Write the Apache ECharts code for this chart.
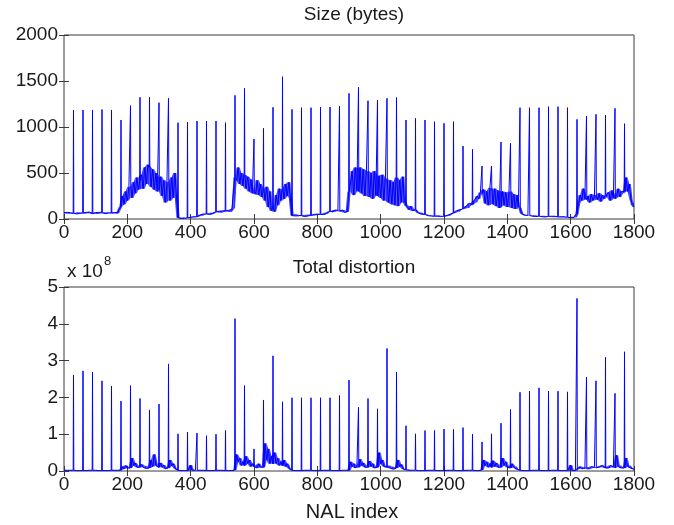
<!DOCTYPE html>
<html>
<head>
<meta charset="utf-8">
<script src="https://cdn.jsdelivr.net/npm/echarts@6/dist/echarts.min.js"></script>
<style>
html,body{margin:0;padding:0;background:#fff;}
#chart{width:674px;height:525px;}
</style>
</head>
<body>
<div id="chart"></div>
<script>
// NAL index step of the baseline arrays below
const sampleStep = 5;
const xTicks = [0, 200, 400, 600, 800, 1000, 1200, 1400, 1600, 1800];
const sizeTicks = [0, 500, 1000, 1500, 2000];
const distTicks = [0, 1, 2, 3, 4, 5];

// Single-NAL spikes (I-frames)
const spikeIdx = [30, 60, 90, 120, 150, 180, 210, 240, 270, 300, 330, 360, 390, 420, 450, 480, 510, 540,
  570, 600, 630, 660, 690, 720, 750, 780, 810, 840, 870, 900, 930, 960, 990, 1020, 1050, 1080, 1110,
  1140, 1170, 1200, 1230, 1260, 1290, 1320, 1350, 1380, 1410, 1440, 1470, 1500, 1530, 1560, 1590,
  1620, 1650, 1680, 1710, 1740, 1770];
const sizeSpikes = [1185, 1185, 1185, 1190, 1185, 1076, 1232, 1323, 1323, 1264, 1312, 1047, 1054, 1065,
  1065, 1065, 1047, 1344, 1420, 870, 986, 1214, 1547, 1192, 1210, 1210, 1217, 1217, 1228, 1366, 1431,
  1286, 1290, 1312, 1320, 1076, 1094, 1076, 1058, 1040, 1058, 793, 757, 576, 576, 837, 822, 1210, 1210,
  1210, 1221, 1221, 1210, 1083, 1120, 1138, 1130, 1203, 1036];
const distSpikes = [2.61, 2.72, 2.69, 2.45, 2.31, 1.90, 2.32, 1.97, 1.66, 1.82, 2.91, 1.01, 1.06, 1.03,
  0.96, 1.00, 1.10, 4.14, 2.32, 0.60, 1.93, 3.13, 1.88, 1.99, 1.99, 1.99, 1.99, 1.99, 2.05, 2.47, 1.73,
  1.97, 1.69, 3.33, 2.69, 1.23, 1.01, 1.10, 1.10, 1.14, 1.13, 1.18, 1.00, 0.79, 1.01, 1.30, 1.67, 2.14,
  2.17, 2.26, 2.17, 2.17, 2.15, 4.69, 2.55, 2.45, 3.09, 2.11, 3.24];

// Size (bytes) between spikes, every 5 NALs: one row per 30 NALs, final value at 1800
const sizeBase = [
  70, 60, 72, 58, 68, 56,
  62, 66, 55, 74, 60, 68,
  68, 58, 72, 62, 76, 64,
  58, 62, 70, 55, 72, 60,
  72, 66, 58, 74, 64, 70,
  65, 60, 72, 58, 68, 110,
  140, 250, 160, 300, 200, 350,
  330, 230, 400, 280, 450, 320,
  420, 480, 330, 560, 380, 590,
  560, 350, 540, 320, 500, 300,
  320, 460, 250, 420, 180, 380,
  400, 200, 450, 230, 500, 260,
  15, 10, 5, 15, 8, 12,
  12, 10, 20, 15, 25, 20,
  25, 30, 45, 35, 55, 50,
  55, 60, 50, 68, 58, 72,
  80, 72, 85, 68, 88, 76,
  90, 82, 95, 75, 100, 120,
  450, 420, 560, 380, 500, 360,
  480, 330, 460, 300, 430, 280,
  300, 270, 420, 260, 380, 240,
  320, 200, 350, 130, 300, 90,
  120, 80, 260, 150, 330, 200,
  320, 220, 380, 250, 400, 230,
  40, 30, 45, 28, 40, 35,
  35, 40, 28, 45, 32, 48,
  40, 36, 50, 40, 54, 45,
  50, 56, 48, 68, 60, 78,
  85, 90, 76, 98, 85, 94,
  90, 80, 98, 72, 90, 78,
  300, 300, 520, 260, 560, 310,
  300, 560, 280, 540, 250, 510,
  520, 240, 500, 220, 520, 260,
  250, 470, 230, 480, 200, 440,
  430, 180, 420, 160, 400, 150,
  450, 140, 420, 180, 460, 200,
  150, 130, 100, 140, 90, 110,
  100, 80, 62, 72, 52, 60,
  50, 45, 36, 40, 32, 35,
  30, 26, 34, 22, 30, 26,
  28, 30, 40, 35, 50, 60,
  65, 70, 90, 80, 100, 110,
  110, 115, 140, 120, 170, 150,
  160, 200, 180, 250, 220, 290,
  280, 320, 170, 300, 150, 340,
  330, 160, 330, 140, 310, 120,
  140, 300, 150, 290, 130, 280,
  300, 120, 270, 110, 260, 130,
  120, 60, 48, 42, 36, 40,
  38, 35, 30, 40, 26, 35,
  30, 32, 25, 34, 22, 30,
  28, 25, 30, 20, 30, 25,
  22, 20, 25, 16, 25, 20,
  18, 20, 15, 24, 15, 20,
  60, 170, 260, 200, 330, 220,
  210, 250, 180, 270, 200, 240,
  260, 210, 280, 190, 260, 220,
  250, 240, 290, 200, 310, 230,
  220, 260, 330, 240, 300, 280,
  300, 450, 300, 380, 220, 160,
  130
];

// Total distortion (x 1e8) between spikes, same sampling
const distBase = [
  0.02, 0.01, 0.02, 0.01, 0.02, 0.01,
  0.02, 0.02, 0.01, 0.02, 0.01, 0.02,
  0.01, 0.02, 0.01, 0.01, 0.02, 0.01,
  0.02, 0.01, 0.02, 0.01, 0.01, 0.02,
  0.01, 0.02, 0.01, 0.02, 0.01, 0.01,
  0.02, 0.01, 0.02, 0.01, 0.02, 0.01,
  0.03, 0.12, 0.06, 0.15, 0.08, 0.10,
  0.08, 0.35, 0.15, 0.22, 0.10, 0.14,
  0.10, 0.18, 0.10, 0.14, 0.07, 0.12,
  0.08, 0.30, 0.12, 0.45, 0.15, 0.20,
  0.10, 0.22, 0.10, 0.16, 0.06, 0.10,
  0.08, 0.30, 0.14, 0.20, 0.08, 0.05,
  0.02, 0.02, 0.01, 0.02, 0.01, 0.02,
  0.01, 0.02, 0.16, 0.02, 0.01, 0.02,
  0.02, 0.01, 0.02, 0.01, 0.02, 0.01,
  0.01, 0.02, 0.01, 0.02, 0.01, 0.02,
  0.02, 0.01, 0.02, 0.01, 0.02, 0.01,
  0.01, 0.02, 0.01, 0.02, 0.01, 0.02,
  0.03, 0.45, 0.25, 0.35, 0.15, 0.25,
  0.15, 0.40, 0.20, 0.30, 0.12, 0.20,
  0.12, 0.15, 0.08, 0.20, 0.10, 0.12,
  0.10, 0.75, 0.30, 0.60, 0.20, 0.40,
  0.20, 0.50, 0.20, 0.35, 0.15, 0.25,
  0.15, 0.30, 0.12, 0.20, 0.08, 0.05,
  0.02, 0.02, 0.01, 0.02, 0.01, 0.02,
  0.01, 0.01, 0.02, 0.01, 0.02, 0.01,
  0.02, 0.02, 0.01, 0.02, 0.01, 0.02,
  0.01, 0.01, 0.02, 0.01, 0.02, 0.01,
  0.02, 0.02, 0.01, 0.02, 0.01, 0.02,
  0.01, 0.01, 0.02, 0.01, 0.02, 0.01,
  0.02, 0.25, 0.12, 0.20, 0.08, 0.15,
  0.10, 0.32, 0.15, 0.22, 0.10, 0.14,
  0.10, 0.27, 0.12, 0.20, 0.08, 0.12,
  0.10, 0.50, 0.20, 0.30, 0.12, 0.15,
  0.10, 0.15, 0.08, 0.12, 0.05, 0.10,
  0.08, 0.30, 0.12, 0.18, 0.06, 0.05,
  0.03, 0.04, 0.02, 0.03, 0.02, 0.02,
  0.02, 0.02, 0.01, 0.02, 0.01, 0.02,
  0.01, 0.01, 0.02, 0.01, 0.02, 0.01,
  0.02, 0.02, 0.01, 0.02, 0.01, 0.02,
  0.01, 0.01, 0.02, 0.01, 0.02, 0.01,
  0.02, 0.02, 0.01, 0.02, 0.01, 0.02,
  0.01, 0.01, 0.02, 0.01, 0.02, 0.01,
  0.02, 0.02, 0.01, 0.02, 0.01, 0.02,
  0.03, 0.30, 0.15, 0.25, 0.10, 0.20,
  0.10, 0.28, 0.12, 0.22, 0.10, 0.15,
  0.10, 0.35, 0.15, 0.25, 0.10, 0.12,
  0.08, 0.20, 0.10, 0.12, 0.05, 0.04,
  0.02, 0.02, 0.01, 0.02, 0.01, 0.02,
  0.01, 0.01, 0.02, 0.01, 0.02, 0.01,
  0.02, 0.02, 0.01, 0.02, 0.01, 0.02,
  0.01, 0.01, 0.02, 0.01, 0.02, 0.01,
  0.02, 0.02, 0.01, 0.02, 0.01, 0.02,
  0.01, 0.01, 0.16, 0.01, 0.02, 0.01,
  0.05, 0.08, 0.12, 0.06, 0.10, 0.08,
  0.06, 0.10, 0.06, 0.12, 0.08, 0.10,
  0.08, 0.08, 0.12, 0.10, 0.15, 0.10,
  0.08, 0.12, 0.08, 0.15, 0.10, 0.12,
  0.08, 0.43, 0.12, 0.15, 0.08, 0.10,
  0.08, 0.35, 0.12, 0.15, 0.08, 0.06,
  0.05
];

const FONT = 'Liberation Sans, Arial, Helvetica, sans-serif';
const TXT = '#1a1a1a';
const AX = '#3a3a3a';
const BLUE = '#0000ff';
const chart = echarts.init(document.getElementById('chart'), null, {renderer: 'canvas'});

// line through baseline samples with each spike as a single-NAL peak
function lineData(base, spikes) {
  const out = [];
  base.forEach((b, i) => {
    const x = i * sampleStep;
    const k = spikeIdx.indexOf(x);
    if (k >= 0) {
      out.push([x - 1, b], [x, spikes[k]], [x + 1, b]);
    } else {
      out.push([x, b]);
    }
  });
  return out;
}
// quads [x0, lo0, hi0, x1, lo1, hi1] spanning the jitter of neighbouring baseline samples
function bandData(base) {
  const n = base.length;
  const lo = base.map((b, i) => Math.min(b, base[Math.max(i - 1, 0)], base[Math.min(i + 1, n - 1)]));
  const hi = base.map((b, i) => Math.max(b, base[Math.max(i - 1, 0)], base[Math.min(i + 1, n - 1)]));
  const out = [];
  for (let i = 0; i < n - 1; i++) {
    out.push([i * sampleStep, lo[i], hi[i], (i + 1) * sampleStep, lo[i + 1], hi[i + 1]]);
  }
  return out;
}
function bandSeries(xi, yi, base) {
  return {
    type: 'custom', xAxisIndex: xi, yAxisIndex: yi, data: bandData(base), silent: true, z: 1,
    encode: {x: [0, 3], y: [1, 2, 4, 5]},
    renderItem: function (params, api) {
      const p = [
        api.coord([api.value(0), api.value(1)]),
        api.coord([api.value(0), api.value(2)]),
        api.coord([api.value(3), api.value(5)]),
        api.coord([api.value(3), api.value(4)])
      ];
      return {type: 'polygon', shape: {points: p},
              style: {fill: BLUE, opacity: 0.8, stroke: null}};
    }
  };
}

function xAx(grid, pos, showLabels) {
  return {
    type: 'value', gridIndex: grid, position: pos,
    min: xTicks[0], max: xTicks[xTicks.length - 1], interval: 200,
    axisLine: {show: false},
    axisTick: {show: true, inside: true, length: 5, lineStyle: {color: AX, width: 1}},
    axisLabel: {show: showLabels, color: TXT, fontFamily: FONT, fontSize: 19, margin: 4,
      formatter: v => String(v)},
    splitLine: {show: false}
  };
}
function yAx(grid, pos, ticks, showLabels) {
  return {
    type: 'value', gridIndex: grid, position: pos,
    min: ticks[0], max: ticks[ticks.length - 1], interval: ticks[1] - ticks[0],
    axisLine: {show: false},
    axisTick: {show: true, inside: true, length: 5, lineStyle: {color: AX, width: 1}},
    axisLabel: {show: showLabels, color: TXT, fontFamily: FONT, fontSize: 19, margin: 6,
      formatter: v => String(v)},
    splitLine: {show: false}
  };
}

const option = {
  animation: false,
  backgroundColor: '#fff',
  title: [
    {text: 'Size (bytes)', left: 349, top: 0, textAlign: 'center',
     textStyle: {fontFamily: FONT, fontSize: 19, fontWeight: 'normal', color: TXT}},
    {text: 'Total distortion', left: 349, top: 253, textAlign: 'center',
     textStyle: {fontFamily: FONT, fontSize: 19, fontWeight: 'normal', color: TXT}}
  ],
  graphic: [
    {type: 'text', left: 67, top: 262, style: {text: 'x 10', fontFamily: FONT, fontSize: 19, fill: TXT}},
    {type: 'text', left: 104, top: 255, style: {text: '8', fontFamily: FONT, fontSize: 13, fill: TXT}},
    {type: 'text', x: 352, y: 502, style: {text: 'NAL index', fontFamily: FONT, fontSize: 20, fill: TXT, align: 'center'}}
  ],
  grid: [
    {left: 64, top: 35, width: 570, height: 184, show: true, borderColor: AX, borderWidth: 1, backgroundColor: 'transparent'},
    {left: 64, top: 287, width: 570, height: 184, show: true, borderColor: AX, borderWidth: 1, backgroundColor: 'transparent'}
  ],
  xAxis: [
    xAx(0, 'bottom', true), xAx(0, 'top', false),
    xAx(1, 'bottom', true), xAx(1, 'top', false)
  ],
  yAxis: [
    yAx(0, 'left', sizeTicks, true), yAx(0, 'right', sizeTicks, false),
    yAx(1, 'left', distTicks, true), yAx(1, 'right', distTicks, false)
  ],
  series: [
    bandSeries(0, 0, sizeBase),
    {type: 'line', xAxisIndex: 0, yAxisIndex: 0, data: lineData(sizeBase, sizeSpikes), showSymbol: false,
     lineStyle: {color: BLUE, width: 1}, sampling: null, z: 3},
    bandSeries(2, 2, distBase),
    {type: 'line', xAxisIndex: 2, yAxisIndex: 2, data: lineData(distBase, distSpikes), showSymbol: false,
     lineStyle: {color: BLUE, width: 1}, sampling: null, z: 3}
  ]
};
chart.setOption(option);
</script>
</body>
</html>
